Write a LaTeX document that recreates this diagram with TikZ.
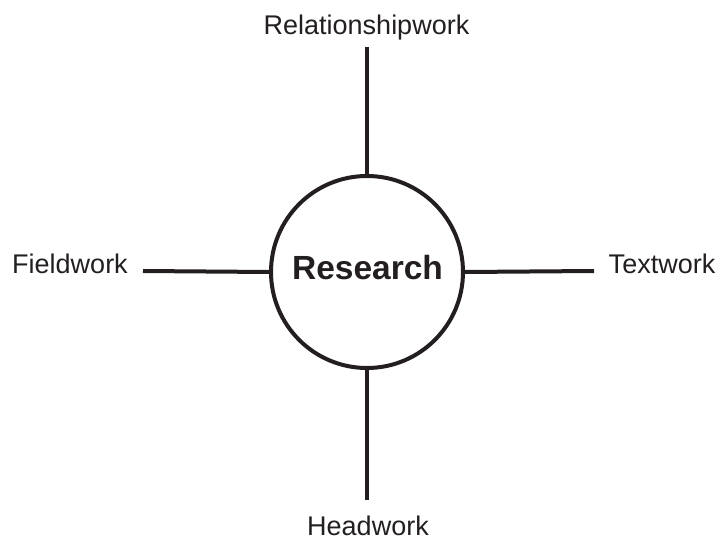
\documentclass[tikz,border=0pt]{standalone}
\usepackage{fontspec}
\setmainfont{Liberation Sans}
\definecolor{ink}{HTML}{231F20}
\begin{document}
\begin{tikzpicture}[x=1pt,y=-1pt,
  hub/.style={circle,draw=ink,line width=4pt,minimum size=192pt,inner sep=0pt},
  lbl/.style={anchor=base,inner sep=0pt,text=ink,font=\fontsize{27}{32}\selectfont},
  spoke/.style={draw=ink,line width=4pt}]
\useasboundingbox (0,0) rectangle (720,540);
\node[hub] (c) at (367,272) {};
\node[anchor=base,inner sep=0pt,text=ink,font=\fontsize{33.5}{40}\selectfont\bfseries] (r) at (367.5,279) {Research};
\coordinate (t) at (367,47);
\coordinate (b) at (367,500);
\coordinate (l) at (143,271);
\coordinate (e) at (594,271);
\draw[spoke] (t) -- (c.north);
\draw[spoke] (b) -- (c.south);
\draw[spoke] (l) -- (c.west);
\draw[spoke] (e) -- (c.east);
\node[lbl] (rw) at (366.5,35) {Relationshipwork};
\node[lbl] (fw) at (70,273) {Fieldwork};
\node[lbl] (tw) at (662,273) {Textwork};
\node[lbl] (hw) at (368,535) {Headwork};
\end{tikzpicture}
\end{document}
